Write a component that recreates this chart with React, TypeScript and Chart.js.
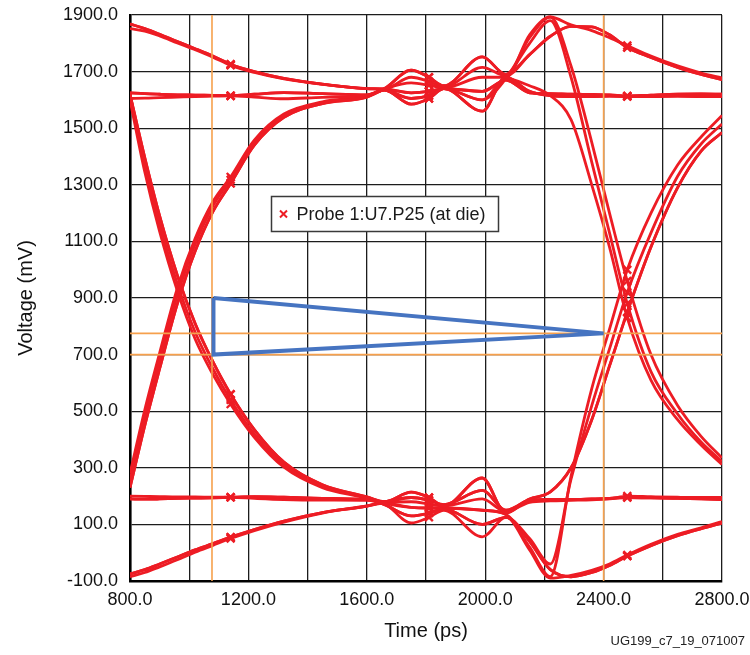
import React, { useEffect, useRef } from "react";
import { Chart, registerables } from "chart.js";

Chart.register(...registerables);

// ---- shared time grid (ps) ----
const TIME_PS = [
  800, 850, 900, 960, 1020, 1080, 1140, 1220, 1320, 1450, 1600,
  1660, 1750, 1810, 1860, 1990, 2070,
  2150, 2220, 2290, 2360, 2420, 2480, 2560, 2650, 2730, 2800,
];
const MARKER_TIMES = [1140, 1810, 2480];

// ---- left part of the eye (800..1600 ps), mV ----
const L_RAIL_A = [1625, 1622, 1620, 1618, 1617, 1616, 1615, 1620, 1626, 1622, 1618];
const L_RAIL_B = [1605, 1606, 1608, 1610, 1612, 1613, 1614, 1610, 1604, 1609, 1615];
const L_TOP_SLOW_A = [1868, 1852, 1832, 1806, 1781, 1755, 1726, 1700, 1676, 1656, 1640];
const L_TOP_SLOW_B = [1852, 1843, 1826, 1801, 1777, 1751, 1722, 1697, 1674, 1655, 1640];
const L_RISE_A = [255, 480, 680, 910, 1090, 1225, 1318, 1450, 1545, 1590, 1612];
const L_RISE_B = [230, 450, 650, 880, 1065, 1205, 1305, 1440, 1538, 1587, 1610];
const L_RISE_C = [280, 505, 705, 935, 1110, 1240, 1328, 1458, 1550, 1593, 1614];
const L_FALL_A = [1620, 1370, 1160, 950, 780, 650, 540, 420, 310, 235, 195];
const L_FALL_B = [1620, 1395, 1190, 980, 810, 675, 560, 435, 320, 240, 197];
const L_FALL_C = [1600, 1345, 1135, 925, 755, 630, 525, 408, 302, 230, 192];
const L_LOW_A = [190, 189, 190, 192, 193, 194, 196, 198, 196, 192, 188];
const L_LOW_B = [200, 199, 198, 197, 197, 196, 196, 192, 188, 186, 185];
const L_BOT_A = [-75, -60, -40, -15, 10, 32, 55, 82, 112, 142, 165];
const L_BOT_B = [-85, -70, -50, -25, 2, 26, 50, 78, 108, 140, 165];

// ---- middle ringing (1660..2070 ps), mV ----
const M_HI_A = [1640, 1705, 1680, 1650, 1752, 1690];
const M_HI_B = [1635, 1585, 1605, 1640, 1560, 1680];
const M_HI_C = [1640, 1680, 1665, 1645, 1715, 1685];
const M_HI_D = [1635, 1605, 1615, 1640, 1600, 1675];
const M_HI_E = [1638, 1660, 1652, 1642, 1680, 1680];
const M_HI_F = [1638, 1625, 1630, 1640, 1630, 1670];
const M_LO_A = [175, 105, 125, 150, 56, 125];
const M_LO_B = [180, 214, 195, 165, 264, 140];
const M_LO_C = [170, 130, 140, 155, 100, 125];
const M_LO_D = [180, 195, 185, 170, 220, 150];
const M_LO_E = [175, 160, 158, 158, 150, 135];
const M_LO_F = [178, 180, 172, 165, 190, 145];

// ---- right part (2150..2800 ps), mV ----
const R_PEAK_FALL_A = [1820, 1893, 1720, 1450, 1200, 960, 700, 520, 410, 335];
const R_PEAK_FALL_B = [1800, 1880, 1680, 1380, 1130, 880, 640, 490, 390, 322];
const R_RAIL_FALL = [1650, 1615, 1530, 1300, 1080, 830, 610, 470, 380, 312];
const R_TOP_SLOW = [1760, 1825, 1860, 1858, 1830, 1785, 1750, 1715, 1690, 1672];
const R_PEAK_SLOW = [1830, 1893, 1865, 1845, 1820, 1792, 1755, 1720, 1695, 1678];
const R_HI_RAIL_A = [1630, 1615, 1612, 1612, 1613, 1612, 1612, 1613, 1612, 1612];
const R_HI_RAIL_B = [1625, 1622, 1620, 1619, 1618, 1614, 1617, 1620, 1621, 1620];
const R_DIP_RISE_A = [20, -85, 270, 580, 790, 1000, 1200, 1370, 1470, 1545];
const R_DIP_RISE_B = [50, -40, 260, 520, 720, 920, 1130, 1330, 1445, 1515];
const R_RAIL_RISE = [190, 215, 300, 470, 660, 850, 1080, 1290, 1420, 1485];
const R_BOT_SLOW = [40, -60, -85, -70, -45, -12, 25, 60, 85, 105];
const R_DIP_SLOW = [10, -90, -80, -62, -40, -8, 30, 65, 88, 110];
const R_LO_RAIL_A = [185, 188, 188, 190, 192, 195, 194, 192, 190, 188];
const R_LO_RAIL_B = [178, 183, 185, 187, 190, 200, 198, 196, 195, 195];

// which left / middle / right pieces make up each captured trace
const TRACES = [
  [L_RAIL_A, M_HI_A, R_PEAK_FALL_A],
  [L_RAIL_B, M_HI_B, R_HI_RAIL_A],
  [L_TOP_SLOW_A, M_HI_C, R_TOP_SLOW],
  [L_TOP_SLOW_B, M_HI_D, R_RAIL_FALL],
  [L_RISE_A, M_HI_E, R_PEAK_SLOW],
  [L_RISE_B, M_HI_F, R_HI_RAIL_B],
  [L_RAIL_A, M_HI_D, R_PEAK_FALL_B],
  [L_RISE_C, M_HI_B, R_HI_RAIL_A],
  [L_TOP_SLOW_A, M_HI_F, R_HI_RAIL_B],
  [L_RISE_B, M_HI_A, R_TOP_SLOW],
  [L_FALL_A, M_LO_A, R_DIP_RISE_A],
  [L_FALL_B, M_LO_B, R_LO_RAIL_A],
  [L_LOW_A, M_LO_C, R_BOT_SLOW],
  [L_LOW_B, M_LO_D, R_RAIL_RISE],
  [L_BOT_A, M_LO_E, R_DIP_SLOW],
  [L_BOT_B, M_LO_F, R_LO_RAIL_B],
  [L_FALL_C, M_LO_C, R_DIP_RISE_B],
  [L_LOW_A, M_LO_B, R_LO_RAIL_A],
  [L_BOT_A, M_LO_D, R_RAIL_RISE],
  [L_FALL_B, M_LO_E, R_BOT_SLOW],
];

// cursors and eye mask
const CURSOR_TIMES = [1077, 2400];
const CURSOR_VOLTS = [775, 700];
const MASK_T = [1082, 2400, 1082, 1082];
const MASK_V = [900, 775, 700, 900];

const X_MIN = 800, X_MAX = 2800, X_STEP = 200, X_LABEL_STEP = 400;
const Y_MIN = -100, Y_MAX = 1900, Y_STEP = 200;

const LEGEND_LABEL = "Probe 1:U7.P25 (at die)";
const FOOTER = "UG199_c7_19_071007";

const RED = "#ed1c24";
const ORANGE = "#f6a04c";
const BLUE = "#4674c1";
const FONT = "'Liberation Sans', Arial, Helvetica, sans-serif";

const overlayPlugin = {
  id: "overlay",
  afterDraw(chart: any) {
    const { ctx, scales } = chart;
    const xs = scales.x, ys = scales.y;
    const left = Math.round(xs.getPixelForValue(1276)) + 0.5;
    const top = Math.round(ys.getPixelForValue(1262)) + 0.5;
    const w = 227, h = 35;
    ctx.save();
    ctx.fillStyle = "#fff";
    ctx.fillRect(left, top, w, h);
    ctx.strokeStyle = "#3a3a3a";
    ctx.lineWidth = 1.5;
    ctx.strokeRect(left, top, w, h);
    const mx = left + 12, my = top + h / 2;
    ctx.strokeStyle = RED;
    ctx.lineWidth = 2;
    ctx.beginPath();
    ctx.moveTo(mx - 3.5, my - 3.5); ctx.lineTo(mx + 3.5, my + 3.5);
    ctx.moveTo(mx + 3.5, my - 3.5); ctx.lineTo(mx - 3.5, my + 3.5);
    ctx.stroke();
    ctx.fillStyle = "#1a1a1a";
    ctx.font = `18px ${FONT}`;
    ctx.textBaseline = "middle";
    ctx.textAlign = "left";
    ctx.fillText(LEGEND_LABEL, left + 25, my + 1);
    ctx.font = `13px ${FONT}`;
    ctx.textAlign = "right";
    ctx.fillStyle = "#222";
    ctx.fillText(FOOTER, chart.width - 5, 641);
    ctx.restore();
  },
};

export default function App() {
  const ref = useRef<HTMLCanvasElement>(null);
  useEffect(() => {
    if (!ref.current) return;
    const toPts = (ys: number[]) => TIME_PS.map((t, i) => ({ x: t, y: ys[i] }));
    const traceSets = TRACES.map((parts) => ({
      data: toPts(([] as number[]).concat(...parts)),
      borderColor: RED,
      borderWidth: 2.8,
      cubicInterpolationMode: "monotone" as const,
      pointStyle: "crossRot" as const,
      pointRadius: (c: any) => (MARKER_TIMES.includes(TIME_PS[c.dataIndex]) ? 5.5 : 0),
      pointBorderColor: RED,
      pointBorderWidth: 2.4,
      pointBackgroundColor: RED,
      fill: false,
    }));
    const guideSets = [
      ...CURSOR_TIMES.map((t) => ({
        data: [{ x: t, y: Y_MIN }, { x: t, y: Y_MAX }],
        borderColor: ORANGE, borderWidth: 1.6, pointRadius: 0, fill: false,
      })),
      ...CURSOR_VOLTS.map((v) => ({
        data: [{ x: X_MIN, y: v }, { x: X_MAX, y: v }],
        borderColor: ORANGE, borderWidth: 1.6, pointRadius: 0, fill: false,
      })),
    ];
    const maskSet = {
      data: MASK_T.map((t, i) => ({ x: t, y: MASK_V[i] })),
      borderColor: BLUE, borderWidth: 4, pointRadius: 0, fill: false,
      borderJoinStyle: "miter" as const,
    };
    const chart = new Chart(ref.current, {
      type: "line",
      data: { datasets: [maskSet, ...guideSets, ...traceSets] as any },
      options: {
        responsive: false,
        animation: false,
        parsing: false as any,
        layout: { padding: { left: 0, top: 15, right: 28, bottom: 0 } },
        plugins: { legend: { display: false }, tooltip: { enabled: false } },
        scales: {
          x: {
            type: "linear",
            min: X_MIN, max: X_MAX,
            ticks: {
              stepSize: X_STEP, autoSkip: false, maxRotation: 0, padding: 8,
              color: "#111", font: { family: FONT, size: 18 },
              callback: (v: any) => (Number(v) % X_LABEL_STEP === 0 ? Number(v).toFixed(1) : ""),
            },
            grid: { color: "#1c1c1c", lineWidth: 1.3, drawTicks: false },
            border: { color: "#000", width: 2.6 },
            title: { display: true, text: "Time (ps)", color: "#111", font: { family: FONT, size: 20 }, padding: { top: 0, bottom: 12 } },
            afterFit: (s: any) => { s.height = 74; s.paddingLeft = 0; s.paddingRight = 0; },
          },
          y: {
            type: "linear",
            min: Y_MIN, max: Y_MAX,
            ticks: {
              stepSize: Y_STEP, autoSkip: false, padding: 12,
              color: "#111", font: { family: FONT, size: 18 },
              callback: (v: any) => Number(v).toFixed(1),
            },
            grid: { color: "#1c1c1c", lineWidth: 1.3, drawTicks: false },
            border: { color: "#000", width: 2.6 },
            title: { display: true, text: "Voltage (mV)", color: "#111", font: { family: FONT, size: 20 }, padding: { top: 14, bottom: 0 } },
            afterFit: (s: any) => { s.width = 130; s.paddingTop = 0; s.paddingBottom = 0; },
          },
        },
      },
      plugins: [overlayPlugin],
    });
    return () => chart.destroy();
  }, []);
  return (
    <div style={{ position: "absolute", left: 0, top: 0, width: 750, height: 655, background: "#fff" }}>
      <canvas ref={ref} width={750} height={655} style={{ display: "block" }} />
    </div>
  );
}
